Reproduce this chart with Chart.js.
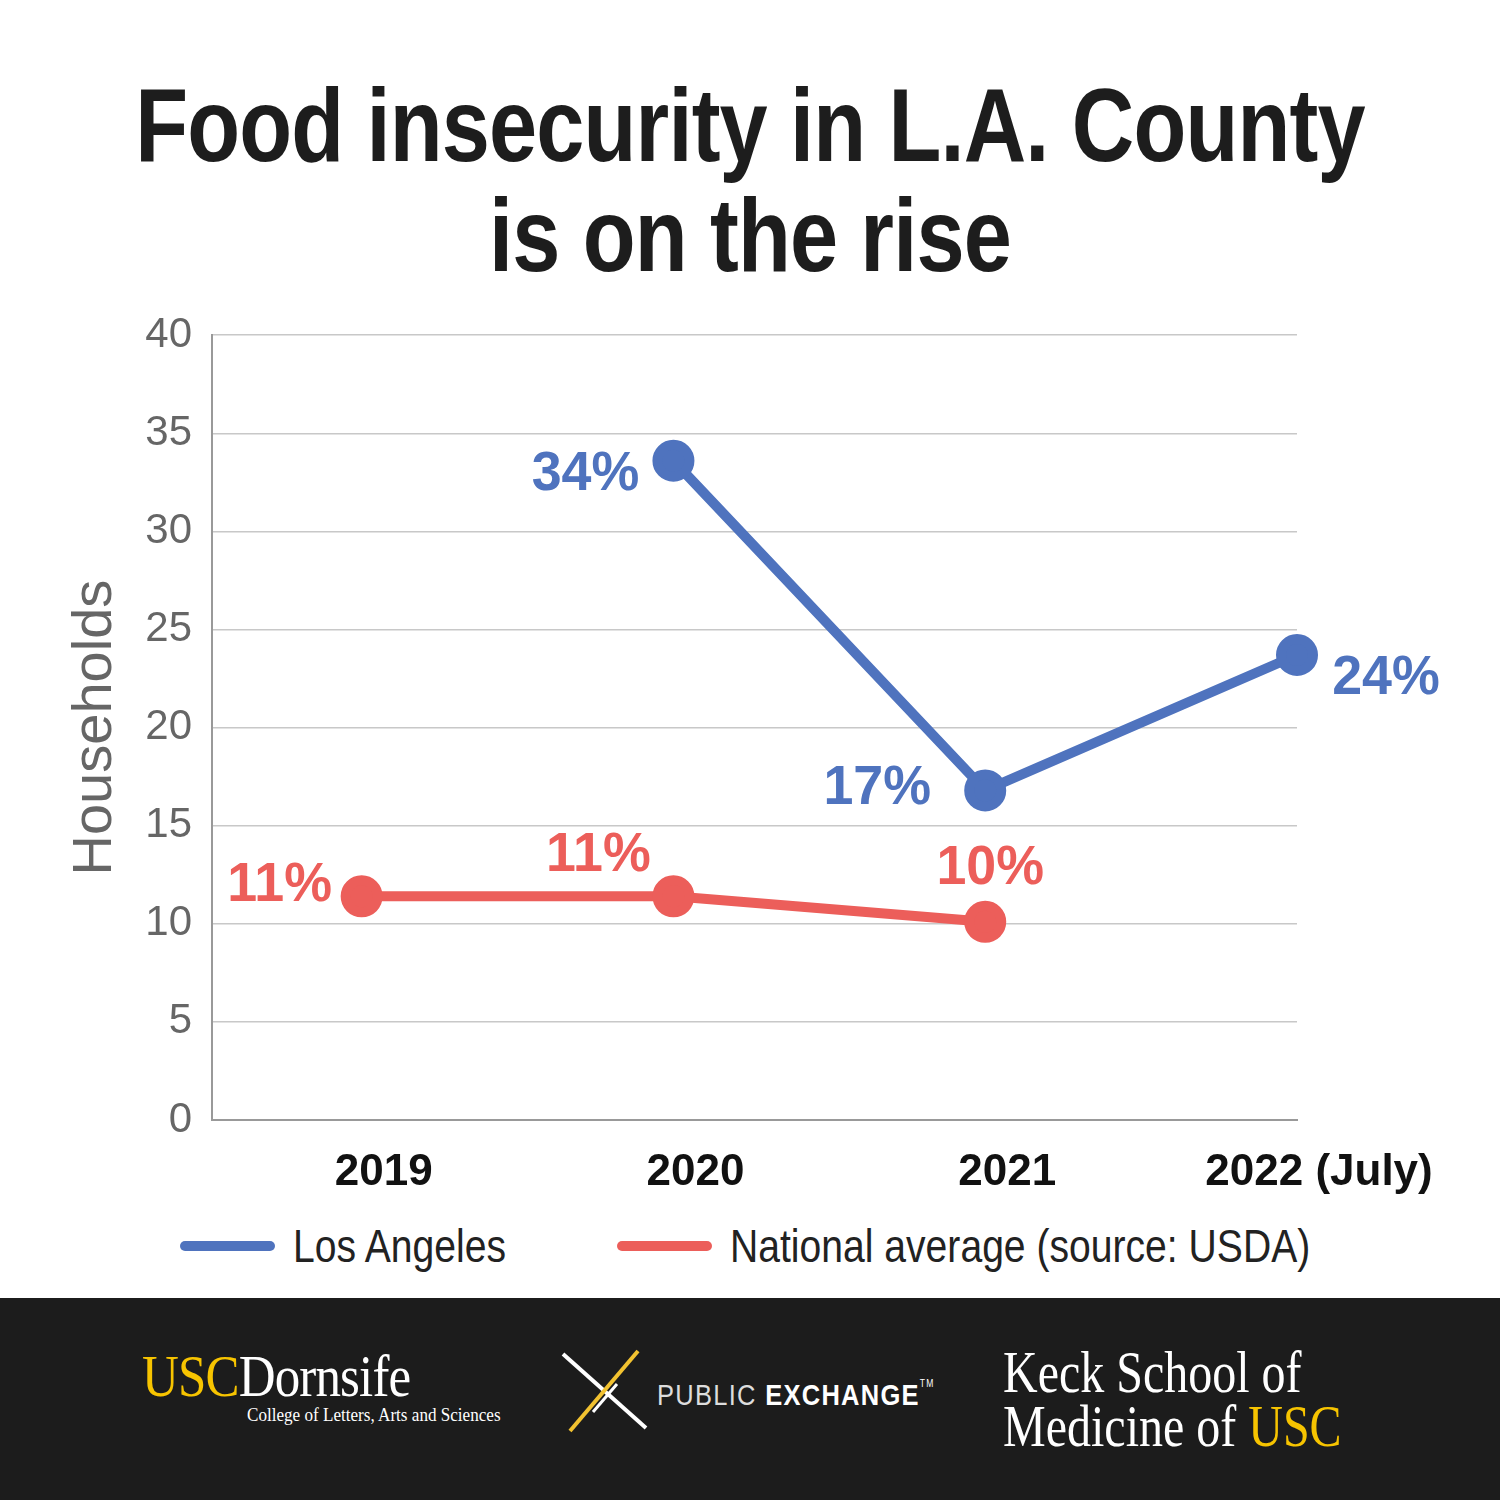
<!DOCTYPE html>
<html>
<head>
<meta charset="utf-8">
<script src="https://cdn.jsdelivr.net/npm/chart.js@4.4.0/dist/chart.umd.min.js"></script>
<style>
  body { margin: 0; background: #fff; }
  #page { position: relative; width: 1500px; height: 1500px; overflow: hidden; background: #fff; }
  .tline { position: absolute; left: 0; width: 1500px; text-align: center; white-space: nowrap;
           font-family: 'Liberation Sans', Arial, sans-serif; font-weight: bold;
           font-size: 103px; line-height: 110px; color: #1d1d1d; transform: scaleX(0.84); letter-spacing: -1px; }
  #chartBox { position: absolute; left: 0; top: 290px; }
  #legend { position: absolute; top: 1218px; left: 0; width: 1500px; height: 56px;
            font-family: 'Liberation Sans', Arial, sans-serif; font-size: 46px; color: #222; }
  .item { position: absolute; top: 0; height: 56px; display: flex; align-items: center; white-space: nowrap; }
  .swatch { width: 95px; height: 10px; border-radius: 5px; margin-right: 18px; flex: none; }
  .item span { display: inline-block; transform: scaleX(0.85); transform-origin: left center; }
  #footer { position: absolute; left: 0; top: 1298px; width: 1500px; height: 202px; background: #1c1c1c; color: #fff; }
  .serif { font-family: 'Liberation Serif', 'DejaVu Serif', serif; position: absolute; white-space: nowrap; transform-origin: left top; }
  .gold { color: #f7c400; }
</style>
</head>
<body>
<div id="page">
  <div class="tline" style="top:71px;">Food insecurity in L.A. County</div>
  <div class="tline" style="top:181px;">is on the rise</div>
  <div id="chartBox"><canvas id="chart" width="1500" height="925"></canvas></div>
  <div id="legend"></div>
  <div id="footer">
    <div class="serif" style="left:142px; top:48px; font-size:60px; line-height:60px; transform:scaleX(0.85); letter-spacing:-1px;"><span class="gold">USC</span>Dornsife</div>
    <div class="serif" style="left:247px; top:107px; font-size:19px; line-height:20px; transform:scaleX(0.9);">College of Letters, Arts and Sciences</div>
    <svg style="position:absolute; left:555px; top:50px;" width="100" height="90">
      <line x1="8" y1="6" x2="91" y2="80" stroke="#fff" stroke-width="4"/>
      <line x1="83" y1="3" x2="15" y2="83" stroke="#f2c230" stroke-width="4"/>
      <line x1="62" y1="36" x2="38" y2="64" stroke="#fff" stroke-width="3"/>
    </svg>
    <div style="position:absolute; left:657px; top:70px; font-family:'Liberation Sans','DejaVu Sans',sans-serif; font-size:30px; line-height:32px; letter-spacing:1.5px; white-space:nowrap; transform:scaleX(0.85); transform-origin:left top;"><span style="font-weight:normal; color:#ddd;">PUBLIC</span> <b>EXCHANGE</b><sup style="font-size:10px; vertical-align:18px;">TM</sup></div>
    <div class="serif" style="left:1003px; top:44px; font-size:60px; line-height:60px; transform:scaleX(0.8);">Keck School of</div>
    <div class="serif" style="left:1003px; top:98px; font-size:60px; line-height:60px; transform:scaleX(0.8);">Medicine of <span class="gold">USC</span></div>
  </div>
</div>
<script>
// data
const years = [2019, 2020, 2021, 2022];
const yearLabels = ['2019', '2020', '2021', '2022 (July)'];
const laValues = [null, 33.6, 16.8, 23.7];
const natValues = [11.4, 11.4, 10.1, null];
const laText = ['', '34%', '17%', '24%'];
const natText = ['11%', '11%', '10%', ''];
const seriesNames = ['Los Angeles', 'National average (source: USDA)'];
const seriesColors = ['#4f73be', '#ec5e5a'];

// where each value label sits relative to its point (px)
const laOffsets = [[0, 0], [-88, 14], [-108, -2], [89, 24]];
const natOffsets = [[-82, -11], [-75, -41], [5, -53], [0, 0]];

const sans = "'Liberation Sans', Arial, sans-serif";

function points(vals) {
  const out = [];
  years.forEach((y, i) => { if (vals[i] !== null) out.push({ x: y, y: vals[i] }); });
  return out;
}
function pick(arr, vals) {
  return arr.filter((a, i) => vals[i] !== null);
}

const valueLabels = {
  id: 'valueLabels',
  afterDatasetsDraw(chart) {
    const ctx = chart.ctx;
    chart.data.datasets.forEach((ds, i) => {
      const meta = chart.getDatasetMeta(i);
      meta.data.forEach((pt, j) => {
        const off = ds.textOffsets[j];
        ctx.save();
        ctx.translate(pt.x + off[0], pt.y + off[1]);
        ctx.scale(0.96, 1);
        ctx.font = 'bold 56px ' + sans;
        ctx.fillStyle = ds.borderColor;
        ctx.textAlign = 'center';
        ctx.textBaseline = 'middle';
        ctx.fillText(ds.pointText[j], 0, 0);
        ctx.restore();
      });
    });
  }
};

const chart = new Chart(document.getElementById('chart'), {
  type: 'line',
  data: {
    datasets: [
      {
        label: seriesNames[0],
        data: points(laValues),
        pointText: pick(laText, laValues),
        textOffsets: pick(laOffsets, laValues),
        borderColor: seriesColors[0], backgroundColor: seriesColors[0],
        borderWidth: 10, pointRadius: 16, pointHoverRadius: 16, clip: false
      },
      {
        label: seriesNames[1],
        data: points(natValues),
        pointText: pick(natText, natValues),
        textOffsets: pick(natOffsets, natValues),
        borderColor: seriesColors[1], backgroundColor: seriesColors[1],
        borderWidth: 10, pointRadius: 16, pointHoverRadius: 16, clip: false
      }
    ]
  },
  options: {
    responsive: false,
    animation: false,
    devicePixelRatio: 1,
    layout: { padding: { top: 24, right: 203, left: 0, bottom: 0 } },
    plugins: { legend: { display: false }, tooltip: { enabled: false } },
    scales: {
      x: {
        type: 'linear', min: 2018.52, max: 2022,
        afterBuildTicks: (s) => { s.ticks = years.map(v => ({ value: v })); },
        afterFit: (s) => { s.height = 95; },
        grid: { display: false },
        border: { color: '#999', width: 2 },
        ticks: {
          callback: (v) => yearLabels[years.indexOf(v)],
          font: { family: sans, size: 44, weight: 'bold' }, color: '#111',
          padding: 18, labelOffset: 22, maxRotation: 0, autoSkip: false
        }
      },
      y: {
        min: 0, max: 40,
        afterFit: (s) => { s.width = 212; },
        grid: { color: '#c8c8c8', lineWidth: 1.5, drawTicks: false },
        border: { color: '#999', width: 2 },
        ticks: { stepSize: 5, font: { family: sans, size: 42 }, color: '#666', padding: 20 },
        title: { display: true, text: 'Households', font: { family: sans, size: 56 }, color: '#666', padding: { top: 62, bottom: 0 } }
      }
    }
  },
  plugins: [valueLabels]
});

// legend built from the series arrays
const legendLefts = [180, 617];
const legend = document.getElementById('legend');
seriesNames.forEach((name, i) => {
  const it = document.createElement('div');
  it.className = 'item';
  it.style.left = legendLefts[i] + 'px';
  it.innerHTML = '<div class="swatch" style="background:' + seriesColors[i] + '"></div><span>' + name + '</span>';
  legend.appendChild(it);
});
</script>
</body>
</html>
